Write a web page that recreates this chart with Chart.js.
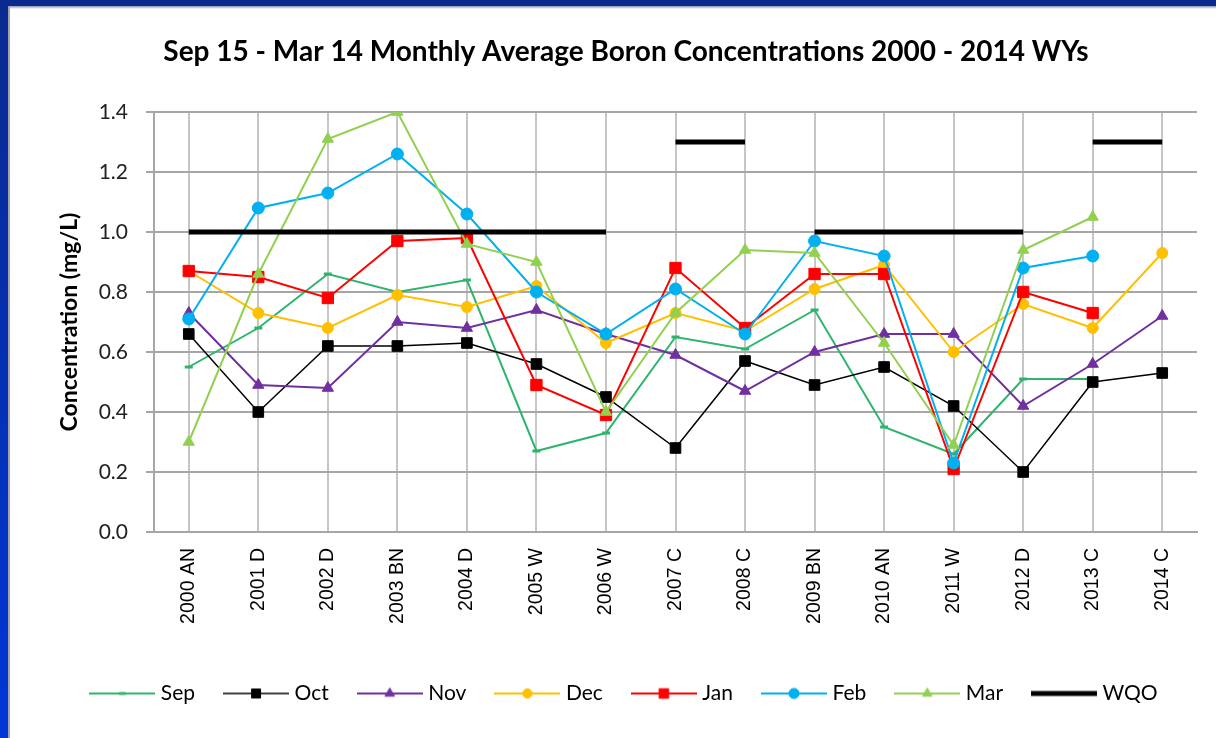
<!DOCTYPE html>
<html><head><meta charset="utf-8">
<script src="https://cdn.jsdelivr.net/npm/chart.js@4.4.0/dist/chart.umd.min.js"></script>
<style>
html,body{margin:0;padding:0;background:#fff;}
#wrap{position:relative;width:1216px;height:738px;overflow:hidden;background:#fff;}
#c{position:absolute;left:0;top:0;}
#topbar{position:absolute;left:0;top:0;width:1216px;height:6px;background:#0a2a8e;}
#topfade{position:absolute;left:0;top:6px;width:1216px;height:3px;background:linear-gradient(#8a93b8,#fff);}
#leftbar{position:absolute;left:0;top:0;width:8px;height:738px;background:linear-gradient(#0a2a8e,#0036d8);}
#leftline{position:absolute;left:8px;top:6px;width:2px;height:732px;background:#a0a2ac;}
</style></head>
<body><div id="wrap"><canvas id="c" width="1216" height="738"></canvas><div id="topbar"></div><div id="topfade"></div><div id="leftbar"></div><div id="leftline"></div></div>
<script>
const categories = ['2000 AN','2001 D','2002 D','2003 BN','2004 D','2005 W','2006 W','2007 C','2008 C','2009 BN','2010 AN','2011 W','2012 D','2013 C','2014 C'];
const sep = [0.55,0.68,0.86,0.80,0.84,0.27,0.33,0.65,0.61,0.74,0.35,0.26,0.51,0.51,null];
const oct = [0.66,0.40,0.62,0.62,0.63,0.56,0.45,0.28,0.57,0.49,0.55,0.42,0.20,0.50,0.53];
const nov = [0.73,0.49,0.48,0.70,0.68,0.74,0.66,0.59,0.47,0.60,0.66,0.66,0.42,0.56,0.72];
const dec = [0.87,0.73,0.68,0.79,0.75,0.82,0.63,0.73,0.67,0.81,0.89,0.60,0.76,0.68,0.93];
const jan = [0.87,0.85,0.78,0.97,0.98,0.49,0.39,0.88,0.68,0.86,0.86,0.21,0.80,0.73,null];
const feb = [0.71,1.08,1.13,1.26,1.06,0.80,0.66,0.81,0.66,0.97,0.92,0.23,0.88,0.92,null];
const mar = [0.30,0.86,1.31,1.40,0.96,0.90,0.40,0.73,0.94,0.93,0.63,0.29,0.94,1.05,null];
const wqoA = [1,1,1,1,1,1,1,null,null,1,1,1,1,null,null];
const wqoB = [null,null,null,null,null,null,null,1.3,1.3,null,null,null,null,1.3,1.3];
const yTicks = [0,0.2,0.4,0.6,0.8,1.0,1.2,1.4];

function series(label, data, color, style, radius, order, bw) {
  return {label, data, borderColor: color, backgroundColor: color,
    pointBackgroundColor: color, pointBorderColor: color,
    pointStyle: style, pointRadius: radius, pointBorderWidth: style === 'line' ? 3 : 1,
    borderWidth: bw || 2, tension: 0, spanGaps: false, order};
}
const datasets = [
  series('Sep', sep, '#2db46d', 'line', 4, 9),
  series('Oct', oct, '#000000', 'rect', 7.5, 8, 1.5),
  series('Nov', nov, '#7030a0', 'triangle', 6.5, 7),
  series('Dec', dec, '#ffc000', 'circle', 5.5, 6),
  series('Jan', jan, '#ff0000', 'rect', 8, 5),
  series('Feb', feb, '#00b0f0', 'circle', 6, 4),
  series('Mar', mar, '#92d050', 'triangle', 6.5, 3),
  Object.assign(series('WQO', wqoA, '#000000', false, 0, 1, 5), {pointRadius:0}),
  Object.assign(series('WQO2', wqoB, '#000000', false, 0, 0, 5), {pointRadius:0, hideLegend:true})
];

function makeIcon(ds) {
  const cv = document.createElement('canvas');
  cv.width = 66; cv.height = 16;
  const ctx = cv.getContext('2d');
  ctx.strokeStyle = ds.borderColor; ctx.lineWidth = ds.borderWidth;
  ctx.beginPath(); ctx.moveTo(0, 8); ctx.lineTo(66, 8); ctx.stroke();
  if (ds.pointStyle) {
    ctx.fillStyle = ds.pointBackgroundColor; ctx.strokeStyle = ds.pointBorderColor;
    ctx.lineWidth = ds.pointBorderWidth;
    Chart.helpers.drawPoint(ctx, {pointStyle: ds.pointStyle, radius: ds.pointRadius * 0.85, borderWidth: ds.pointBorderWidth, rotation: 0}, 33, 8);
  }
  return cv;
}

const baseGen = Chart.defaults.plugins.legend.labels.generateLabels;
new Chart(document.getElementById('c'), {
  type: 'line',
  data: {labels: categories, datasets},
  options: {
    responsive: false, animation: false, devicePixelRatio: 1,
    layout: {padding: {left: 55, right: 19, top: 0, bottom: 24}},
    plugins: {
      tooltip: {enabled: false},
      title: {display: true, text: 'Sep 15 - Mar 14 Monthly Average Boron Concentrations 2000 - 2014 WYs',
        color: '#000', font: {family: 'Lato', size: 28, weight: 'bold'}, padding: {top: 35.2, bottom: 43.2}},
      legend: {position: 'bottom', labels: {
        usePointStyle: true, pointStyleWidth: 56, padding: 33, color: '#000',
        font: {family: 'Lato', size: 21},
        generateLabels(chart) {
          const items = baseGen(chart);
          items.forEach(it => { const ds = chart.data.datasets[it.datasetIndex]; it.pointStyle = makeIcon(ds); });
          return items.filter(it => !chart.data.datasets[it.datasetIndex].hideLegend)
                      .sort((a, b) => a.datasetIndex - b.datasetIndex);
        }
      }}
    },
    scales: {
      x: {offset: true,
        grid: {offset: false, color: '#c6c6c6', lineWidth: 2, drawTicks: false},
        border: {color: '#a6a6a6', width: 2},
        ticks: {autoSkip: false, maxRotation: 90, minRotation: 90, padding: 16, color: '#000',
          font: {family: 'Liberation Sans', size: 19.5}},
        afterFit(s) { s.height = 118; }
      },
      y: {min: 0, max: 1.4,
        afterBuildTicks(s) { s.ticks = yTicks.map(v => ({value: v})); },
        grid: {color: '#a6a6a6', lineWidth: 2, tickLength: 8},
        border: {color: '#a6a6a6', width: 2},
        ticks: {padding: 18, color: '#222', font: {family: 'Lato', size: 21}, callback: v => Number(v).toFixed(1)},
        title: {display: true, text: 'Concentration (mg/L)', color: '#000',
          font: {family: 'Lato', size: 23, weight: 'bold'}, padding: {top: 1, bottom: 0}},
        afterFit(s) { s.width = 99; }
      }
    }
  }
});
</script>
</body></html>
